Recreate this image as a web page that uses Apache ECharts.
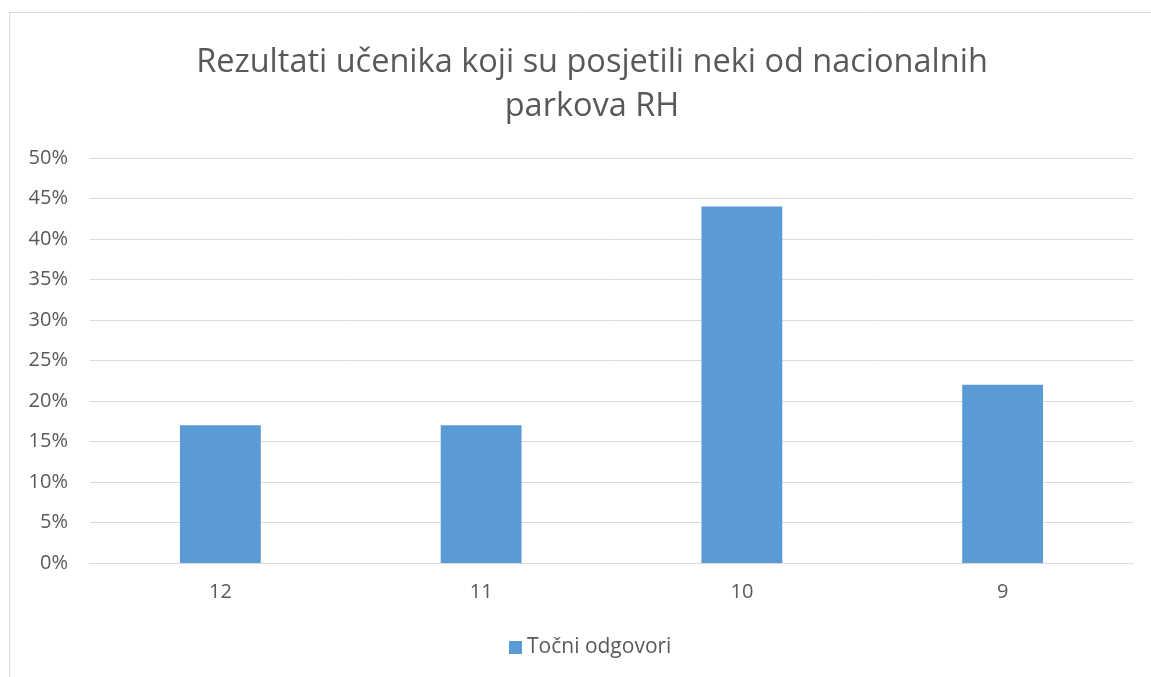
<!DOCTYPE html>
<html lang="hr">
<head>
  <meta charset="UTF-8">
  <title>Rezultati učenika</title>
  <script src="https://cdn.jsdelivr.net/npm/echarts@6/dist/echarts.min.js"></script>
  <style>
    html, body { margin: 0; padding: 0; background: #fff; }
    #chart { width: 1151px; height: 677px; }
  </style>
</head>
<body>
  <div id="chart"></div>
  <script>
    // podaci
    const categories = ['12', '11', '10', '9'];
    const tocniOdgovori = [17, 17, 44, 22];
    const seriesName = 'Točni odgovori';

    const textColor = '#595959';
    const font = 'Open Sans';

    var myChart = echarts.init(document.getElementById('chart'));

    var option = {
      backgroundColor: '#fff',
      graphic: [{
        type: 'rect',
        shape: { x: 9.5, y: 12.5, width: 1200, height: 700 },
        style: { fill: 'none', stroke: '#d9d9d9', lineWidth: 1 },
        silent: true
      }],
      title: {
        text: 'Rezultati učenika koji su posjetili neki od nacionalnih\nparkova RH',
        left: 587,
        textAlign: 'center',
        top: 36,
        textStyle: {
          fontFamily: font,
          fontSize: 32.5,
          fontWeight: 'normal',
          color: textColor,
          lineHeight: 44
        }
      },
      legend: {
        data: [seriesName],
        bottom: 14,
        left: 504,
        itemWidth: 13,
        itemHeight: 13,
        itemGap: 5,
        icon: 'rect',
        textStyle: { fontFamily: font, fontSize: 21, color: textColor }
      },
      grid: {
        left: 90,
        right: 18,
        top: 158,
        bottom: 114,
        containLabel: false
      },
      xAxis: {
        type: 'category',
        data: categories,
        axisLine: { lineStyle: { color: '#d9d9d9', width: 1 } },
        axisTick: { show: false },
        axisLabel: { fontFamily: font, fontSize: 20, color: textColor, margin: 19 }
      },
      yAxis: {
        type: 'value',
        min: 0,
        max: 50,
        interval: 5,
        axisLine: { show: false },
        axisTick: { show: false },
        splitLine: { lineStyle: { color: '#d9d9d9', width: 1 } },
        axisLabel: {
          fontFamily: font, fontSize: 20, color: textColor, margin: 22,
          formatter: '{value}%'
        }
      },
      series: [{
        name: seriesName,
        type: 'bar',
        data: tocniOdgovori,
        barWidth: '31%',
        itemStyle: { color: '#5b9bd5' }
      }]
    };

    myChart.setOption(option);
  </script>
</body>
</html>
